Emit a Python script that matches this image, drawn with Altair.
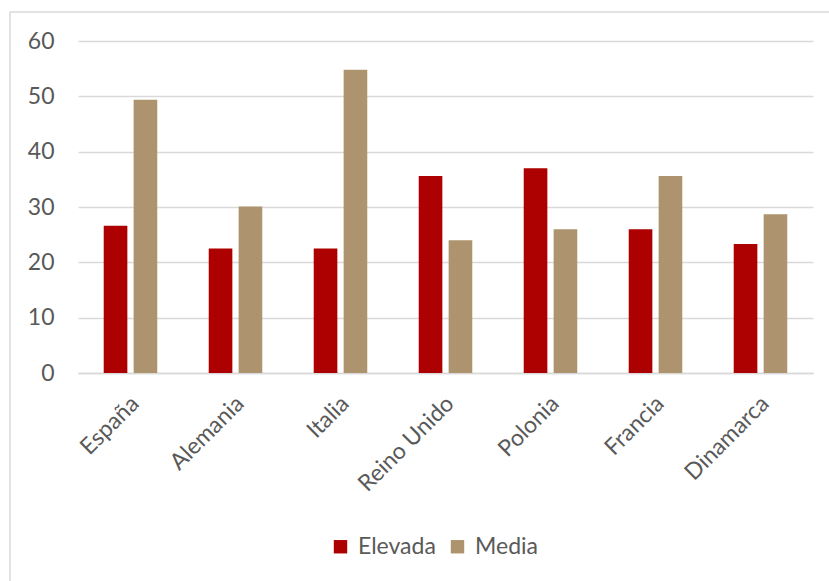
import altair as alt
import pandas as pd

paises = ["España", "Alemania", "Italia", "Reino Unido", "Polonia", "Francia", "Dinamarca"]
elevada = [26.6, 22.5, 22.5, 35.6, 37.0, 26.0, 23.3]
media = [49.4, 30.1, 54.8, 24.0, 26.0, 35.6, 28.7]
series = ["Elevada", "Media"]
colores = ["#AD0000", "#AD946E"]
y_ticks = [0, 10, 20, 30, 40, 50, 60]

rows = []
for p, e, m in zip(paises, elevada, media):
    rows.append({"pais": p, "serie": "Elevada", "valor": e})
    rows.append({"pais": p, "serie": "Media", "valor": m})
df = pd.DataFrame(rows)

FONT = "Lato"
GRAY = "#595959"
GRID = "#D9D9D9"
FS = 23

bars = alt.Chart(df).mark_bar().encode(
    x=alt.X("pais:N", sort=paises, title=None,
            scale=alt.Scale(paddingInner=0.49, paddingOuter=0.245),
            axis=alt.Axis(labelAngle=-45, labelAlign="right", labelBaseline="top",
                          labelPadding=19, labelFontSize=FS, labelColor=GRAY,
                          labelFont=FONT, ticks=False, domain=True, grid=False,
                          domainColor=GRID, domainWidth=1.5, labelOffset=-3)),
    xOffset=alt.XOffset("serie:N", sort=series,
                        scale=alt.Scale(paddingInner=0.21, paddingOuter=0)),
    y=alt.Y("valor:Q", title=None,
            scale=alt.Scale(domain=[0, 60], nice=False),
            axis=alt.Axis(values=y_ticks, labelFontSize=FS, labelColor=GRAY,
                          labelFont=FONT, ticks=False, domain=False,
                          gridColor=GRID, gridWidth=1.5, labelPadding=24)),
    color=alt.Color("serie:N", sort=series,
                    scale=alt.Scale(domain=series, range=colores),
                    legend=alt.Legend(title=None, orient="none", direction="horizontal",
                                      legendX=251, legendY=494,
                                      symbolType="square", symbolSize=180,
                                      symbolStrokeWidth=0,
                                      labelFontSize=FS, labelColor=GRAY, labelFont=FONT,
                                      labelOffset=6, columnPadding=10)),
)

border = alt.Chart(alt.Data(values=[{}])).mark_rect(
    fill=None, stroke=GRID, strokeWidth=1.5
).encode(
    x=alt.value(-68), x2=alt.value(780),
    y=alt.value(-29), y2=alt.value(580),
)

chart = alt.layer(border, bars).properties(
    width=735, height=332,
    background="white",
    padding={"left": 78, "top": 41, "right": 16, "bottom": 208},
    autosize=alt.AutoSizeParams(type="none"),
).configure_view(stroke=None)

chart.save("out.html", embed_options={"renderer": "svg", "actions": False})
